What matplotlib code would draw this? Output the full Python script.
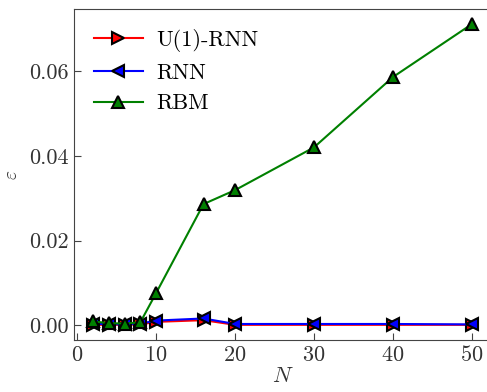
import numpy as np
import matplotlib.pyplot as plt

plt.rcParams['font.family'] = 'serif'
plt.rcParams['font.serif'] = ['cmr10']
plt.rcParams['mathtext.fontset'] = 'cm'
plt.rcParams['axes.formatter.use_mathtext'] = True

N = [2, 4, 6, 8, 10, 16, 20, 30, 40, 50]
u1_rnn = [0.0001, 0.0001, 0.0001, 0.0002, 0.0008, 0.0012, 0.0001, 0.0001, 0.0001, 0.0001]
rnn = [0.0003, 0.0003, 0.0002, 0.0004, 0.0011, 0.0016, 0.0003, 0.0003, 0.0003, 0.0002]
rbm = [0.0009, 0.0005, 0.0004, 0.0007, 0.0076, 0.0286, 0.0319, 0.0420, 0.0586, 0.0711]

grey = '#444444'

fig = plt.figure(figsize=(4.87, 3.92), dpi=100)
ax = fig.add_axes([0.152, 0.133, 0.856, 0.844])

ax.plot(N, u1_rnn, color='red', marker='>', markersize=9, markeredgecolor='black',
        markeredgewidth=1.5, linewidth=1.5, label='U(1)-RNN')
ax.plot(N, rnn, color='blue', marker='<', markersize=9, markeredgecolor='black',
        markeredgewidth=1.5, linewidth=1.5, label='RNN')
ax.plot(N, rbm, color='green', marker='^', markersize=9, markeredgecolor='black',
        markeredgewidth=1.5, linewidth=1.5, label='RBM')

ax.set_xticks([0, 10, 20, 30, 40, 50])
ax.set_yticks([0.0, 0.02, 0.04, 0.06])
ax.yaxis.set_major_formatter(plt.FormatStrFormatter('%.2f'))
ax.tick_params(direction='in', labelsize=16, colors=grey, labelcolor='#333333', length=5, pad=4)
for s in ax.spines.values():
    s.set_color(grey)

ax.set_xlabel('$N$', fontsize=16, color='#333333', labelpad=1)
ax.set_ylabel(r'$\varepsilon$', fontsize=14, color='#333333', labelpad=6)

ax.legend(loc='upper left', frameon=False, fontsize=16, handlelength=2.2,
          labelspacing=0.5, borderaxespad=0.5, handletextpad=0.6)

fig.savefig('out.png', dpi=100)
